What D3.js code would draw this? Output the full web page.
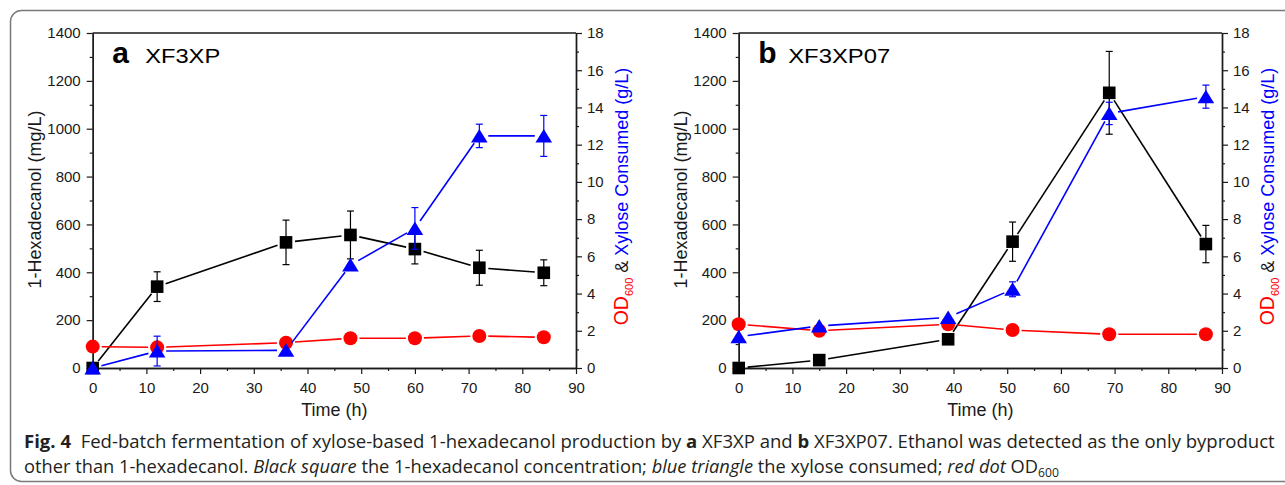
<!DOCTYPE html>
<html>
<head>
<meta charset="utf-8">
<script src="https://cdn.jsdelivr.net/npm/d3@7"></script>
<style>
  html, body { margin: 0; padding: 0; background: #fff; }
  svg { display: block; }
</style>
</head>
<body>
<svg id="chart" width="1285" height="485"></svg>
<script>
// ---------------- DATA ----------------
// Panel a: XF3XP
const timeA   = [0, 12, 36, 48, 60, 72, 84];
const hexA    = [0, 340, 525, 556, 497, 419, 398];      // 1-hexadecanol (mg/L)
const hexAErr = [0, 62, 93, 100, 62, 73, 54];
const xylA    = [0, 0.91, 0.95, 5.53, 7.5, 12.47, 12.47]; // xylose consumed (g/L)
const xylAErr = [0, 0.8, 0, 0, 1.12, 0.63, 1.1];
const odA     = [1.15, 1.11, 1.36, 1.6, 1.6, 1.72, 1.65]; // OD600

// Panel b: XF3XP07
const timeB   = [0, 15, 39, 51, 69, 87];
const hexB    = [0, 33, 120, 528, 1150, 518];
const hexBErr = [0, 0, 0, 82, 173, 78];
const xylB    = [1.68, 2.26, 2.72, 4.23, 13.68, 14.58];
const xylBErr = [0, 0, 0, 0.4, 0.6, 0.62];
const odB     = [2.35, 2.0, 2.35, 2.04, 1.81, 1.81];

// Axis ticks
const xTicks       = [0, 10, 20, 30, 40, 50, 60, 70, 80, 90];
const xMinorTicks  = [5, 15, 25, 35, 45, 55, 65, 75, 85];
const yLeftTicks   = [0, 200, 400, 600, 800, 1000, 1200, 1400];
const yLeftMinor   = [100, 300, 500, 700, 900, 1100, 1300];
const yRightTicks  = [0, 2, 4, 6, 8, 10, 12, 14, 16, 18];
const yRightMinor  = [1, 3, 5, 7, 9, 11, 13, 15, 17];

const panelLabels = ["a", "b"];
const strainNames = ["XF3XP", "XF3XP07"];

// ---------------- LAYOUT ----------------
const svg = d3.select("#chart");
const FONT = "'Liberation Sans', Arial, Helvetica, sans-serif";
const TOP = 33, W = 483.3, H = 335;
const AXC = "#1a1a1a";
const BLACK = "#000000", RED = "#ff0000", BLUE = "#0000ff";

// outer rounded border
svg.append("rect")
  .attr("x", 10.5).attr("y", 10.5)
  .attr("width", 1300).attr("height", 471)
  .attr("rx", 11).attr("ry", 11)
  .attr("fill", "none").attr("stroke", "#7a7a7a").attr("stroke-width", 1.5);

function drawPanel(x0, label, name, nameWidth, t, hex, hexErr, xyl, xylErr, od) {
  const g = svg.append("g").attr("transform", `translate(${x0},${TOP})`);
  const x = d3.scaleLinear().domain([0, 90]).range([0, W]);
  const yL = d3.scaleLinear().domain([0, 1400]).range([H, 0]);
  const yR = d3.scaleLinear().domain([0, 18]).range([H, 0]);

  // top frame line
  g.append("line").attr("x1", 0).attr("x2", W).attr("y1", 0).attr("y2", 0)
    .attr("stroke", AXC).attr("stroke-width", 1.4);

  function styleAxis(sel) {
    sel.selectAll("path.domain").attr("stroke", AXC).attr("stroke-width", 1.4);
    sel.selectAll(".tick line").attr("stroke", AXC).attr("stroke-width", 1.2);
    sel.selectAll(".tick text").attr("font-family", FONT).attr("font-size", 15).attr("fill", "#1a1a1a");
  }

  // minor ticks
  g.append("g").attr("transform", `translate(0,${H})`)
    .call(d3.axisBottom(x).tickValues(xMinorTicks).tickSize(3).tickSizeOuter(0).tickFormat(""))
    .call(styleAxis);
  g.append("g")
    .call(d3.axisLeft(yL).tickValues(yLeftMinor).tickSize(3).tickSizeOuter(0).tickFormat(""))
    .call(styleAxis);
  g.append("g").attr("transform", `translate(${W},0)`)
    .call(d3.axisRight(yR).tickValues(yRightMinor).tickSize(3).tickSizeOuter(0).tickFormat(""))
    .call(styleAxis);

  // major ticks
  g.append("g").attr("transform", `translate(0,${H})`)
    .call(d3.axisBottom(x).tickValues(xTicks).tickSize(6).tickPadding(8).tickSizeOuter(0).tickFormat(d3.format("d")))
    .call(styleAxis);
  g.append("g")
    .call(d3.axisLeft(yL).tickValues(yLeftTicks).tickSize(6).tickPadding(6).tickSizeOuter(0).tickFormat(d3.format("d")))
    .call(styleAxis);
  g.append("g").attr("transform", `translate(${W},0)`)
    .call(d3.axisRight(yR).tickValues(yRightTicks).tickSize(6).tickPadding(5).tickSizeOuter(0).tickFormat(d3.format("d")))
    .call(styleAxis);

  // axis titles
  g.append("text").attr("x", W / 2).attr("y", H + 48)
    .attr("text-anchor", "middle").attr("font-family", FONT).attr("font-size", 18).attr("fill", "#1a1a1a")
    .text("Time (h)");
  g.append("text").attr("transform", `translate(-52,${H / 2 - 1}) rotate(-90)`)
    .attr("text-anchor", "middle").attr("font-family", FONT).attr("font-size", 18).attr("fill", "#1a1a1a")
    .text("1-Hexadecanol (mg/L)");
  const rt = g.append("text").attr("transform", `translate(${W + 52},${H / 2 - 4}) rotate(-90)`)
    .attr("text-anchor", "middle").attr("font-family", FONT).attr("font-size", 18);
  rt.append("tspan").attr("fill", RED).attr("font-size", 19.5).text("OD");
  rt.append("tspan").attr("fill", RED).attr("font-size", 11).attr("dy", 5).text("600");
  rt.append("tspan").attr("fill", "#1a1a1a").attr("dy", -5).text(" & ");
  rt.append("tspan").attr("fill", BLUE).text("Xylose Consumed (g/L)");

  // panel label
  g.append("text").attr("x", 19.5).attr("y", 30).attr("font-family", FONT)
    .attr("font-size", 30).attr("font-weight", "bold").attr("fill", "#000").text(label);
  g.append("text").attr("x", label === "a" ? 52.5 : 49.5).attr("y", 30).attr("font-family", FONT)
    .attr("font-size", 19.5).attr("fill", "#000")
    .attr("textLength", nameWidth).attr("lengthAdjust", "spacingAndGlyphs").text(name);

  // series drawing helper
  function series(vals, errs, yS, color, shape) {
    const pts = t.map((tt, i) => ({ px: x(tt), py: yS(vals[i]), v: vals[i], e: errs ? errs[i] : 0 }));
    const gap = 9;
    const sg = g.append("g");
    // line segments with gaps near markers
    for (let i = 0; i < pts.length - 1; i++) {
      const a = pts[i], b = pts[i + 1];
      const dx = b.px - a.px, dy = b.py - a.py, L = Math.hypot(dx, dy);
      if (L <= 2 * gap) continue;
      const ux = dx / L, uy = dy / L;
      sg.append("line")
        .attr("x1", a.px + ux * gap).attr("y1", a.py + uy * gap)
        .attr("x2", b.px - ux * gap).attr("y2", b.py - uy * gap)
        .attr("stroke", color).attr("stroke-width", 1.6);
    }
    // error bars
    pts.filter(p => p.e > 0).forEach(p => {
      const y1 = yS(p.v + p.e), y2 = yS(p.v - p.e);
      sg.append("line").attr("x1", p.px).attr("x2", p.px).attr("y1", y1).attr("y2", y2)
        .attr("stroke", color).attr("stroke-width", 1.2);
      [y1, y2].forEach(yy => sg.append("line")
        .attr("x1", p.px - 3.5).attr("x2", p.px + 3.5).attr("y1", yy).attr("y2", yy)
        .attr("stroke", color).attr("stroke-width", 1.2));
    });
    // markers
    pts.forEach(p => {
      if (shape === "square") {
        sg.append("rect").attr("x", p.px - 6.3).attr("y", p.py - 6.3)
          .attr("width", 12.6).attr("height", 12.6).attr("fill", color);
      } else if (shape === "circle") {
        sg.append("circle").attr("cx", p.px).attr("cy", p.py).attr("r", 7).attr("fill", color);
      } else {
        sg.append("path")
          .attr("d", `M${p.px},${p.py - 7} L${p.px + 8.3},${p.py + 6.5} L${p.px - 8.3},${p.py + 6.5} Z`)
          .attr("fill", color);
      }
    });
  }

  series(hex, hexErr, yL, BLACK, "square");
  series(od, null, yR, RED, "circle");
  series(xyl, xylErr, yR, BLUE, "triangle");
}

drawPanel(92.7, panelLabels[0], strainNames[0], 75, timeA, hexA, hexAErr, xylA, xylAErr, odA);
drawPanel(738.7, panelLabels[1], strainNames[1], 102, timeB, hexB, hexBErr, xylB, xylBErr, odB);

// ---------------- CAPTION ----------------
const CAPFONT = "'Open Sans', 'Noto Sans', sans-serif";
const capColor = "#231f20";
function capLine(y, parts) {
  const tx = svg.append("text").attr("font-family", CAPFONT).attr("font-size", 18).attr("fill", capColor)
    .attr("transform", `translate(24,${y})`).attr("xml:space", "preserve");
  parts.forEach(p => {
    const s = tx.append("tspan").text(p.t);
    if (p.b) s.attr("font-weight", "bold");
    if (p.i) s.attr("font-style", "italic");
    if (p.sub) s.attr("font-size", 12).attr("dy", 4.5);
  });
  return tx;
}
const line1 = capLine(447.7, [
  { t: "Fig. 4", b: true },
  { t: "\u00a0\u00a0Fed-batch fermentation of xylose-based 1-hexadecanol production by " },
  { t: "a", b: true },
  { t: " XF3XP and " },
  { t: "b", b: true },
  { t: " XF3XP07. Ethanol was detected as the only byproduct" }
]);
const line2 = capLine(472.5, [
  { t: "other than 1-hexadecanol. " },
  { t: "Black square", i: true },
  { t: " the 1-hexadecanol concentration; " },
  { t: "blue triangle", i: true },
  { t: " the xylose consumed; " },
  { t: "red dot", i: true },
  { t: " OD" },
  { t: "600", sub: true }
]);
const w1 = line1.node().getComputedTextLength();
const w2 = line2.node().getComputedTextLength();
line1.attr("transform", `translate(24,447.7) scale(${1251 / w1},1)`);
line2.attr("transform", `translate(24,472.5) scale(${1036 / w2},1)`);
</script>
</body>
</html>
